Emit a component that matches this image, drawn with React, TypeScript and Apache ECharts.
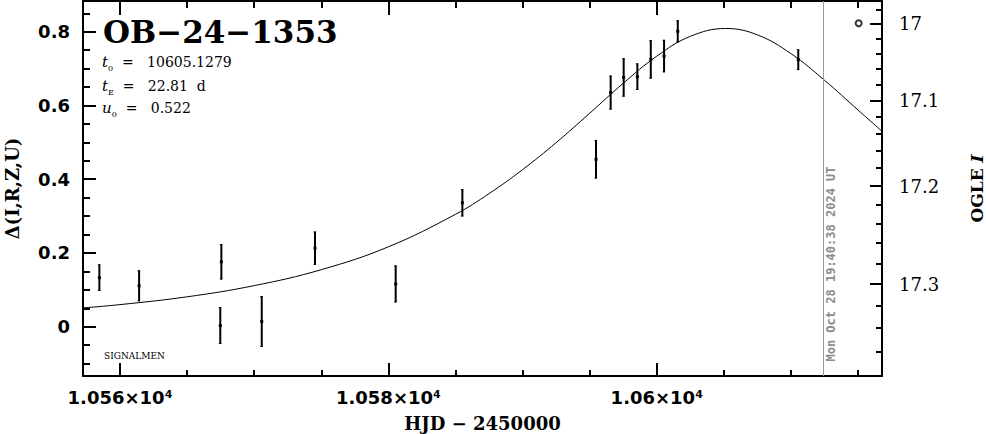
import React, { useEffect, useRef } from "react";
import * as echarts from "echarts";

// Observations: HJD-2450000, delta, error
const obsT = [10558.46, 10561.42, 10567.55, 10567.47, 10570.56, 10574.53, 10580.54, 10585.51, 10595.47, 10596.56, 10597.53, 10598.55, 10599.55, 10600.54, 10601.56, 10610.54];
const obsD = [0.133, 0.111, 0.176, 0.003, 0.014, 0.213, 0.116, 0.336, 0.454, 0.635, 0.676, 0.678, 0.725, 0.734, 0.801, 0.724];
const obsErr = [0.036, 0.042, 0.048, 0.050, 0.069, 0.045, 0.050, 0.037, 0.052, 0.046, 0.052, 0.036, 0.052, 0.044, 0.030, 0.028];

// Model curve
const modelT = [10557, 10560, 10565, 10570, 10575, 10580, 10585, 10587.5, 10590, 10592.5, 10595, 10597.5, 10600, 10602.5, 10605.13, 10607.5, 10610, 10612.5, 10615, 10617];
const modelD = [0.0503, 0.0599, 0.0811, 0.1114, 0.1547, 0.2167, 0.3048, 0.361, 0.426, 0.4993, 0.579, 0.6602, 0.7338, 0.7875, 0.8087, 0.7914, 0.7405, 0.6682, 0.5874, 0.5229];

// Reference marker and "now" line
const refPoint = [10615.04, 0.823];
const nowT = 10612.41;

// Ticks
const xMajor = [10560, 10580, 10600];
const xMinor = [10565, 10570, 10575, 10585, 10590, 10595, 10605, 10610, 10615];
const yMajor = [0, 0.2, 0.4, 0.6, 0.8];
const yMinor = [-0.1, -0.05, 0.05, 0.1, 0.15, 0.25, 0.3, 0.35, 0.45, 0.5, 0.55, 0.65, 0.7, 0.75, 0.85];
const magMajor = [17, 17.1, 17.2, 17.3];
const magMinor = [16.98, 17.02, 17.04, 17.06, 17.08, 17.12, 17.14, 17.16, 17.18, 17.22, 17.24, 17.26, 17.28, 17.32, 17.34, 17.36, 17.38];

const X_MIN = 10557.24;
const X_MAX = 10616.78;
const Y_MIN = -0.1337;
const Y_MAX = 0.8833;
const MAG_BASE = 17.3388;
const SOURCE_FRAC = 0.3241;

const magToDelta = (m: number) =>
  2.5 * Math.log10(1 + (Math.pow(10, -0.4 * (m - MAG_BASE)) - 1) / SOURCE_FRAC);
const deltaToMag = (d: number) =>
  MAG_BASE - 2.5 * Math.log10(SOURCE_FRAC * Math.pow(10, 0.4 * d) + 1 - SOURCE_FRAC);

const SANS = "DejaVu Sans";
const SERIF = "DejaVu Serif";

export default function App() {
  const ref = useRef<HTMLDivElement>(null);
  useEffect(() => {
    if (!ref.current) return;
    const chart = echarts.init(ref.current, undefined, { renderer: "svg" });
    const black = "#000";
    const tickStyle = { color: black, width: 2 };
    const baseX = { type: "value", min: X_MIN, max: X_MAX, splitLine: { show: false }, gridIndex: 0 };
    const baseY = { type: "value", min: Y_MIN, max: Y_MAX, splitLine: { show: false }, gridIndex: 0 };
    const xLabel = (v: number) => `${+(v / 1e4).toFixed(4)}×10⁴`;
    const magMajorD = magMajor.map(magToDelta);
    const magMinorD = magMinor.map(magToDelta);
    const line = (show: boolean) => ({ show, onZero: false, lineStyle: tickStyle });

    chart.setOption({
      animation: false,
      backgroundColor: "#fff",
      grid: { left: 83, right: 104, top: 1, bottom: 58, containLabel: false, outerBoundsMode: "none" },
      xAxis: [
        {
          ...baseX,
          position: "bottom",
          axisLine: line(true),
          axisTick: { show: true, inside: true, length: 13, customValues: xMajor, lineStyle: tickStyle },
          axisLabel: {
            show: true,
            customValues: xMajor,
            formatter: xLabel,
            margin: 12,
            color: black,
            fontFamily: SANS,
            fontWeight: "bold",
            fontSize: 18,
          },
          name: "HJD − 2450000",
          nameLocation: "middle",
          nameGap: 38,
          nameTextStyle: { color: black, fontFamily: SERIF, fontWeight: "bold", fontSize: 18, lineHeight: 18 },
        },
        {
          ...baseX,
          position: "bottom",
          axisLine: line(false),
          axisTick: { show: true, inside: true, length: 6, customValues: xMinor, lineStyle: tickStyle },
          axisLabel: { show: false, customValues: xMinor },
        },
        {
          ...baseX,
          position: "top",
          axisLine: line(true),
          axisTick: { show: true, inside: true, length: 14, customValues: xMajor, lineStyle: tickStyle },
          axisLabel: { show: false, customValues: xMajor },
        },
        {
          ...baseX,
          position: "top",
          axisLine: line(false),
          axisTick: { show: true, inside: true, length: 7, customValues: xMinor, lineStyle: tickStyle },
          axisLabel: { show: false, customValues: xMinor },
        },
      ],
      yAxis: [
        {
          ...baseY,
          position: "left",
          axisLine: line(true),
          axisTick: { show: true, inside: true, length: 13, customValues: yMajor, lineStyle: tickStyle },
          axisLabel: {
            show: true,
            customValues: yMajor,
            formatter: (v: number) => String(Math.round(v * 10) / 10),
            margin: 13,
            color: black,
            fontFamily: SANS,
            fontWeight: "bold",
            fontSize: 18,
          },
          name: "Δ(I,R,Z,U)",
          nameLocation: "middle",
          nameRotate: 90,
          nameGap: 62,
          nameTextStyle: { color: black, fontFamily: SERIF, fontWeight: "bold", fontSize: 18 },
        },
        {
          ...baseY,
          position: "left",
          axisLine: line(false),
          axisTick: { show: true, inside: true, length: 7, customValues: yMinor, lineStyle: tickStyle },
          axisLabel: { show: false, customValues: yMinor },
        },
        {
          ...baseY,
          position: "right",
          axisLine: line(true),
          axisTick: { show: true, inside: true, length: 12, customValues: magMajorD, lineStyle: tickStyle },
          axisLabel: {
            show: true,
            customValues: magMajorD,
            formatter: (v: number) => String(Math.round(deltaToMag(v) * 100) / 100),
            margin: 17,
            color: black,
            fontFamily: SERIF,
            fontSize: 18,
          },
          name: "OGLE {it|I}",
          nameLocation: "middle",
          nameRotate: 90,
          nameGap: 86,
          nameTextStyle: {
            color: black,
            fontFamily: SERIF,
            fontWeight: "bold",
            fontSize: 17,
            lineHeight: 17,
            rich: { it: { fontStyle: "italic", fontFamily: SERIF, fontWeight: "bold", fontSize: 17, lineHeight: 17, color: black } },
          },
        },
        {
          ...baseY,
          position: "right",
          axisLine: line(false),
          axisTick: { show: true, inside: true, length: 6, customValues: magMinorD, lineStyle: tickStyle },
          axisLabel: { show: false, customValues: magMinorD },
        },
      ],
      series: [
        {
          type: "line",
          xAxisIndex: 0,
          yAxisIndex: 0,
          data: modelT.map((t, i) => [t, modelD[i]]),
          showSymbol: false,
          smooth: 0.4,
          clip: true,
          lineStyle: { color: black, width: 1 },
          silent: true,
          markLine: {
            silent: true,
            symbol: ["none", "none"],
            label: { show: false },
            lineStyle: { color: "#9a9a9a", width: 1, type: "solid" },
            data: [{ xAxis: nowT }],
          },
        },
        {
          type: "custom",
          xAxisIndex: 0,
          yAxisIndex: 0,
          data: obsT.map((t, i) => [t, obsD[i], obsErr[i]]),
          encode: { x: 0, y: 1 },
          renderItem: (_params: any, api: any) => {
            const t = api.value(0);
            const d = api.value(1);
            const e = api.value(2);
            const top = api.coord([t, d + e]);
            const bot = api.coord([t, d - e]);
            const c = api.coord([t, d]);
            const st = { stroke: black, lineWidth: 2 };
            return {
              type: "group",
              children: [
                { type: "line", shape: { x1: top[0], y1: top[1], x2: bot[0], y2: bot[1] }, style: st },
                { type: "line", shape: { x1: top[0] - 1.5, y1: top[1] + 0.5, x2: top[0] + 1, y2: top[1] + 0.5 }, style: { stroke: black, lineWidth: 1 } },
                { type: "line", shape: { x1: bot[0] - 1.5, y1: bot[1] - 0.5, x2: bot[0] + 1, y2: bot[1] - 0.5 }, style: { stroke: black, lineWidth: 1 } },
                { type: "rect", shape: { x: c[0] - 1.5, y: c[1] - 1.5, width: 3, height: 3 }, style: { fill: black } },
              ],
            };
          },
        },
        {
          type: "scatter",
          xAxisIndex: 0,
          yAxisIndex: 0,
          data: [refPoint],
          symbol: "emptyCircle",
          symbolSize: 6,
          itemStyle: { color: black, borderColor: black, borderWidth: 2 },
        },
      ],
      graphic: [
        {
          type: "text",
          x: 103,
          y: 32,
          style: {
            text: "OB−24−1353",
            fill: black,
            fontFamily: SERIF,
            fontWeight: "bold",
            fontSize: 31,
            align: "left",
            verticalAlign: "middle",
          },
        },
        ...[
          { y: 62, text: "{i|t}{s|0}{n|  =   10605.1279}" },
          { y: 86, text: "{i|t}{s|E}{n|  =   22.81  d}" },
          { y: 108, text: "{i|u}{s|0}{n|  =   0.522}" },
        ].map((l) => ({
          type: "text",
          x: 102,
          y: l.y,
          style: {
            text: l.text,
            fill: black,
            fontFamily: SERIF,
            fontSize: 14,
            align: "left",
            verticalAlign: "middle",
            rich: {
              i: { fontFamily: SERIF, fontStyle: "italic", fontSize: 15, lineHeight: 20, fill: black, verticalAlign: "middle" },
              s: { fontFamily: SERIF, fontSize: 8, lineHeight: 20, fill: black, verticalAlign: "bottom" },
              n: { fontFamily: SERIF, fontSize: 14, lineHeight: 20, fill: black, verticalAlign: "middle" },
            },
          },
        })),
        {
          type: "text",
          x: 104,
          y: 356,
          style: {
            text: "SIGNALMEN",
            fill: black,
            fontFamily: SERIF,
            fontSize: 9,
            align: "left",
            verticalAlign: "middle",
          },
        },
        {
          type: "text",
          x: 831,
          y: 264,
          rotation: Math.PI / 2,
          style: {
            text: "Mon Oct 28 19:40:38 2024 UT",
            fill: "#8c8c8c",
            fontFamily: "DejaVu Sans Mono",
            fontWeight: "bold",
            fontSize: 12,
            align: "center",
            verticalAlign: "middle",
          },
        },
      ],
    });
    return () => chart.dispose();
  }, []);
  return <div ref={ref} style={{ position: "absolute", left: 0, top: 0, width: 986, height: 434 }} />;
}
